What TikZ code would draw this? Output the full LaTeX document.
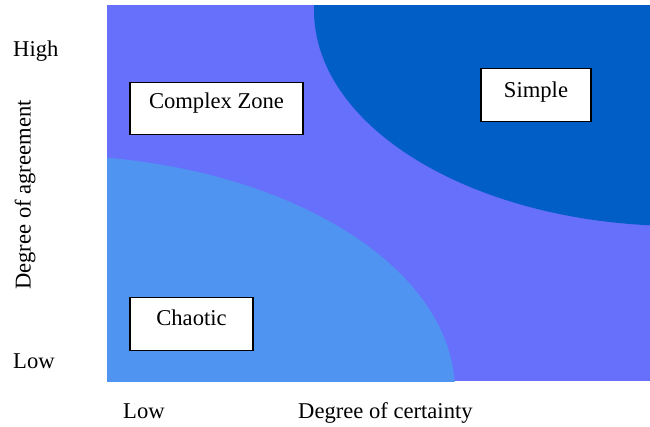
\documentclass[tikz,border=0pt]{standalone}
\usepackage{fontspec}
\setmainfont{Liberation Serif}
\definecolor{midzone}{RGB}{102,112,250}
\definecolor{darkzone}{RGB}{0,94,198}
\definecolor{lightzone}{RGB}{80,148,242}
\tikzset{
  zonebox/.style={draw=black, line width=1.4pt, fill=white, inner sep=0pt, minimum width=#1},
  axislabel/.style={inner sep=0pt, anchor=base west},
}
\begin{document}
\begin{tikzpicture}[x=1pt, y=-1pt, font=\fontsize{22.6}{26}\selectfont]
\useasboundingbox (0,0) rectangle (650,426);
\fill[white] (0,0) rectangle (650,426);
\begin{scope}
  \clip (107,5) rectangle (650,381);
  \fill[midzone] (107,5) rectangle (650,381);
  \fill[darkzone] (680,10) ellipse [x radius=366, y radius=216];
  \fill[lightzone] (45,392) ellipse [x radius=410, y radius=237];
\end{scope}
% boxes
\node[zonebox=173pt, text height=26pt, text depth=26pt] (complex) at (216.5,82) [anchor=north] {Complex Zone};
\node[zonebox=110pt, text height=29pt, text depth=24pt] (simple) at (536,68) [anchor=north] {Simple};
\node[zonebox=123pt, text height=28pt, text depth=25pt] (chaotic) at (191.5,297) [anchor=north] {Chaotic};
% axis labels
\node[axislabel] (high) at (13,56) {High};
\node[axislabel] (lowy) at (13,368) {Low};
\node[axislabel] (lowx) at (123,418) {Low};
\node[axislabel] (certainty) at (298,418) {Degree of certainty};
\node[inner sep=0pt, rotate=90] (agreement) at (25,195) {Degree of agreement};
\end{tikzpicture}
\end{document}
